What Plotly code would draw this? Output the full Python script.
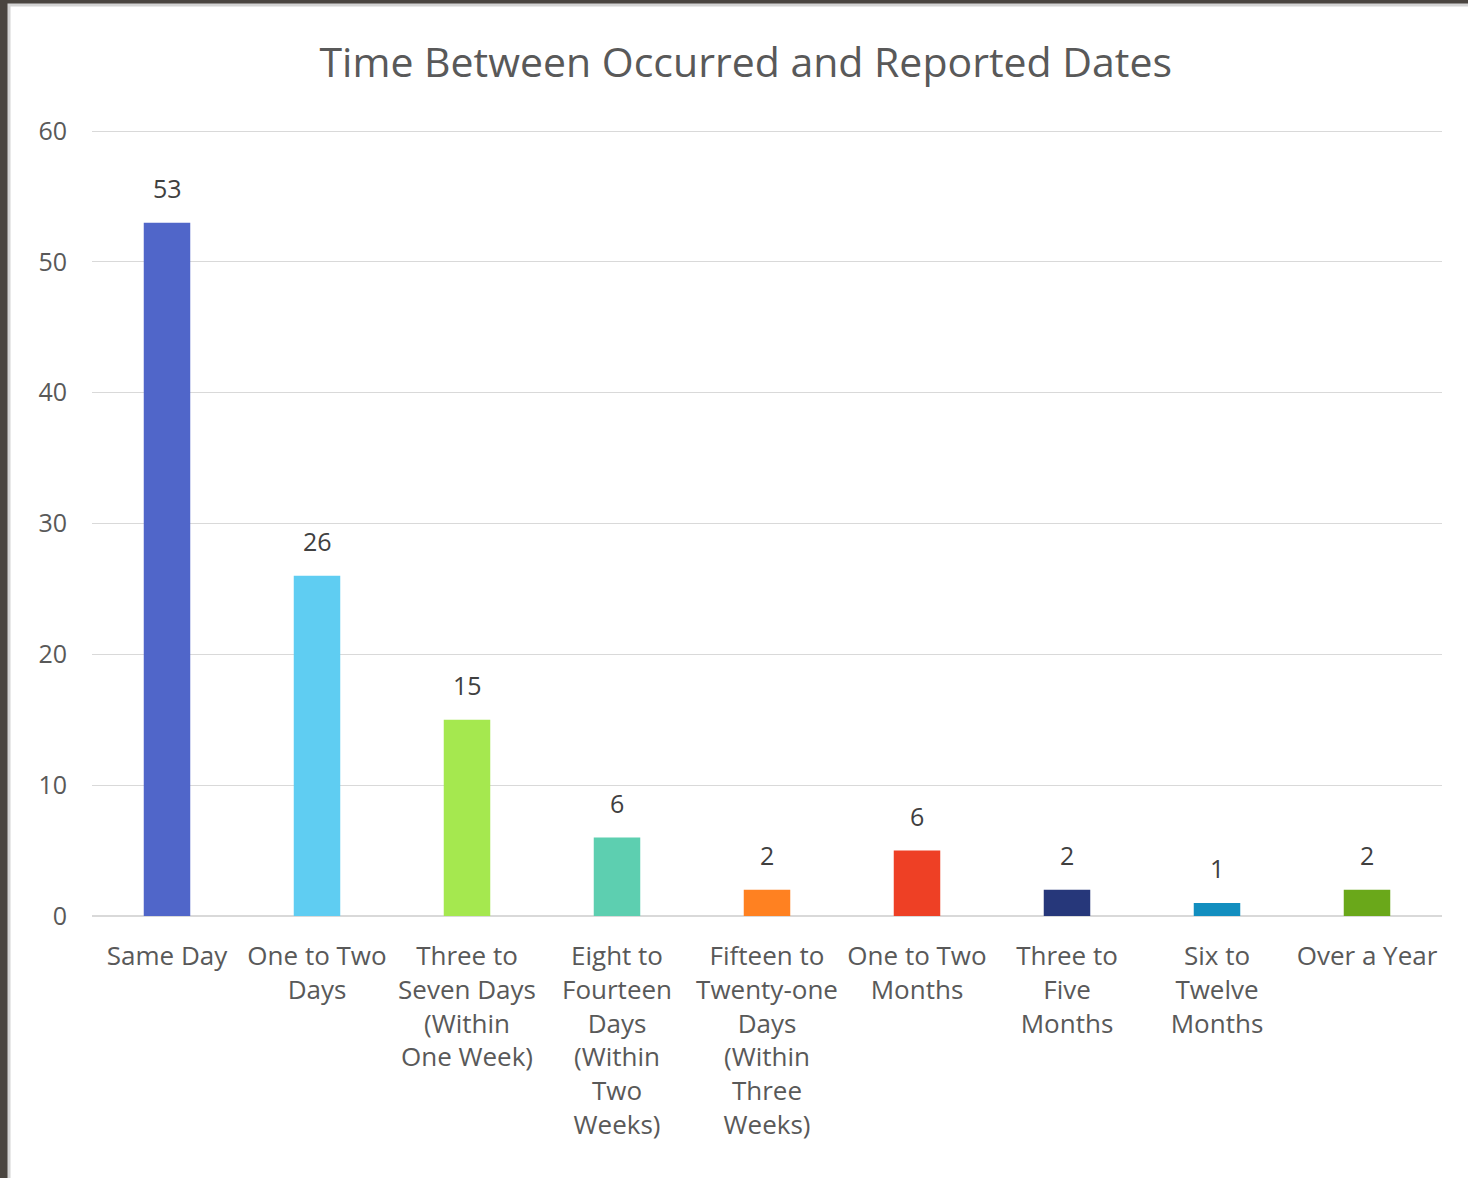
import plotly.graph_objects as go

categories = [
    "Same Day",
    "One to Two<br>Days",
    "Three to<br>Seven Days<br>(Within<br>One Week)",
    "Eight to<br>Fourteen<br>Days<br>(Within<br>Two<br>Weeks)",
    "Fifteen to<br>Twenty-one<br>Days<br>(Within<br>Three<br>Weeks)",
    "One to Two<br>Months",
    "Three to<br>Five<br>Months",
    "Six to<br>Twelve<br>Months",
    "Over a Year",
]
values = [53, 26, 15, 6, 2, 5, 2, 1, 2]
value_labels = ["53", "26", "15", "6", "2", "6", "2", "1", "2"]
colors = ["#5066C9", "#5FCDF2", "#A5E84F", "#5DCFB0", "#FF8121",
          "#EE4025", "#26377A", "#128EBF", "#6AA81A"]
y_ticks = [0, 10, 20, 30, 40, 50, 60]

W, H = 1468, 1178
ML, MR, MT, MB = 92, 26, 118, 262
pw, ph = W - ML - MR, H - MT - MB

def px_x(p):
    return (p - ML) / pw

def px_y(p):
    return (H - MB - p) / ph

FONT = "Open Sans"
GREY = "#595959"

fig = go.Figure(go.Bar(
    x=categories, y=values, marker=dict(color=colors, line=dict(width=0)),
    width=0.31, hoverinfo="x+y",
))

for c, v, t in zip(categories, values, value_labels):
    fig.add_annotation(x=c, y=v, text=t, showarrow=False, yanchor="bottom",
                       yshift=16, font=dict(family=FONT, size=25, color="#404040"))

fig.update_layout(
    width=W, height=H,
    margin=dict(l=ML, r=MR, t=MT, b=MB),
    paper_bgcolor="#4a4540",
    plot_bgcolor="rgba(0,0,0,0)",
    showlegend=False,
    title=dict(text="Time Between Occurred and Reported Dates",
               x=0.508, xanchor="center", y=1 - 63 / H, yanchor="middle",
               font=dict(family=FONT, size=41, color=GREY)),
    font=dict(family=FONT, color=GREY),
    shapes=[dict(type="rect", xref="paper", yref="paper", layer="below",
                 x0=px_x(9), x1=px_x(W + 5), y0=px_y(5), y1=px_y(H + 5),
                 fillcolor="white", line=dict(color="#d4d4d4", width=3))],
)
fig.update_xaxes(tickfont=dict(family=FONT, size=26, color=GREY),
                 showgrid=False, showline=False, ticks="", ticklabelstandoff=22)
fig.update_yaxes(range=[0, 61], tickvals=y_ticks,
                 tickfont=dict(family=FONT, size=25, color=GREY),
                 gridcolor="#d9d9d9", gridwidth=1, zeroline=True,
                 zerolinecolor="#d9d9d9", zerolinewidth=2,
                 showline=False, ticks="", ticklabelstandoff=24)

fig.write_html("out.html", config={"displayModeBar": False},
               post_script="document.body.style.margin='0';")
